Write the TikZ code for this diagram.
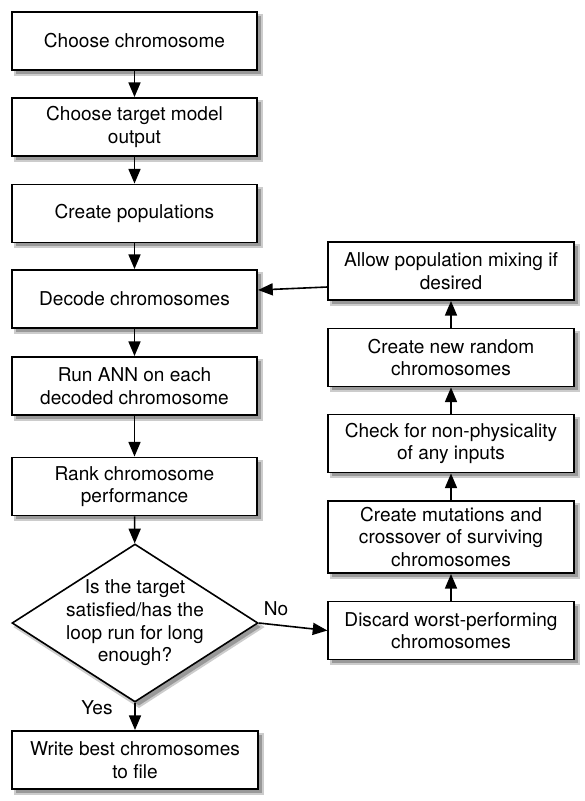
\documentclass[tikz,border=0pt]{standalone}
\usepackage{fontspec}
\setmainfont{TeX Gyre Heros}
\usetikzlibrary{arrows.meta,shapes.geometric,calc,backgrounds}

\tikzset{every picture/.style={line width=0.75pt}}
\tikzset{
  stepbox/.style={draw, line width=1.4pt, fill=white, minimum width=184pt, minimum height=43.5pt, inner sep=0pt, align=center, font=\fontsize{14.3}{17}\selectfont},
  testbox/.style={draw, diamond, line width=1.2pt, fill=white, minimum width=184.5pt, minimum height=118.5pt, inner sep=0pt},
  boxshadow/.style={fill=black!40, draw=black!20, line width=1.5pt},
  flowarrow/.style={line width=1.2pt, -{Triangle[length=11pt,width=9pt]}},
  flowlabel/.style={font=\fontsize{14.3}{17}\selectfont, inner sep=0.75pt, align=center},
}

\begin{document}
\begin{tikzpicture}[x=0.75pt,y=0.75pt,yscale=-1,xscale=1]
    \useasboundingbox (0,0) rectangle (585,801);
    % main column
    \node [stepbox] (choose) at (134.5,41) {Choose chromosome};
    \node [stepbox] (target) at (134.5,127) {Choose target model\\output};
    \node [stepbox] (popul) at (134.5,213.5) {Create populations};
    \node [stepbox] (decode) at (134.5,299) {Decode chromosomes};
    \node [stepbox] (runann) at (134.5,386) {Run ANN on each\\decoded chromosome};
    \node [stepbox] (rank) at (134.5,486.5) {Rank chromosome\\performance};
    \node [testbox, label={[flowlabel]center:Is the target\\satisfied/has the\\loop run for long\\enough?}] (decide) at (135,623) {};
    \node [stepbox] (write) at (135,760) {Write best chromosomes\\to file};
    % loop column
    \node [stepbox] (discard) at (451,630.5) {Discard worst-performing\\chromosomes};
    \node [stepbox, minimum height=54pt] (mutate) at (451,537) {Create mutations and\\crossover of surviving\\chromosomes};
    \node [stepbox] (check) at (451,443.5) {Check for non-physicality\\of any inputs};
    \node [stepbox] (newrand) at (451,357.5) {Create new random\\chromosomes};
    \node [stepbox] (mixing) at (451,271) {Allow population mixing if\\desired};
    % shadows
    \begin{pgfonlayer}{background}
    \foreach \n in {choose,target,popul,decode,runann,rank,write,discard,mutate,check,newrand,mixing}
        \draw [boxshadow] ($(\n.south west)+(4,4)$) rectangle ($(\n.north east)+(4,4)$);
    \draw [boxshadow] ($(decide.north)+(4,4)$) -- ($(decide.east)+(4,4)$) -- ($(decide.south)+(4,4)$) -- ($(decide.west)+(4,4)$) -- cycle;
    \end{pgfonlayer}
    % connectors
    \draw [flowarrow] (choose) -- (target);
    \draw [flowarrow] (target) -- (popul);
    \draw [flowarrow] (popul) -- (decode);
    \draw [flowarrow] (decode) -- (runann);
    \draw [flowarrow] (runann) -- (rank);
    \draw [flowarrow] (rank) -- (decide);
    \draw [flowarrow] (decide.south) -- (write);
    \draw [flowarrow] (decide.east) -- (discard.west);
    \draw [flowarrow] (discard) -- (mutate);
    \draw [flowarrow] (mutate) -- (check);
    \draw [flowarrow] (check) -- (newrand);
    \draw [flowarrow] (newrand) -- (mixing);
    \draw [flowarrow] ($(mixing.west)+(0,16)$) -- ($(decode.east)+(0,-9)$);
    \node [flowlabel] (yes) at (97,708) {Yes};
    \node [flowlabel] (no) at (276,609) {No};
\end{tikzpicture}
\end{document}
